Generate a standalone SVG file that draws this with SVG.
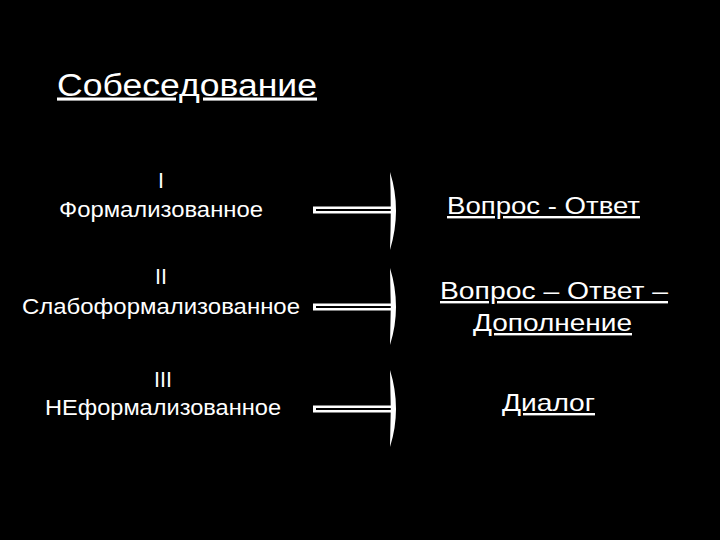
<svg xmlns="http://www.w3.org/2000/svg" width="720" height="540" viewBox="0 0 720 540">
<style>
text{font-family:"Liberation Sans",Arial,sans-serif;fill:#fff}
.l{font-size:21.5px;text-anchor:middle}
.r{font-size:24px;text-anchor:middle;text-decoration:underline}
.shaft{fill:#fff}
.inner{fill:#000}
.head{fill:#fff}
</style>
<rect width="720" height="540" fill="#000"/>
<text x="57" y="95.5" textLength="260" lengthAdjust="spacingAndGlyphs" style="font-size:31px;text-decoration:underline">Собеседование</text>
<g id="node-left-1"><text class="l" x="161" y="188">I</text><text class="l" x="161" y="216.5" textLength="204" lengthAdjust="spacingAndGlyphs">Формализованное</text></g>
<g id="node-left-2"><text class="l" x="161" y="284">II</text><text class="l" x="161" y="313.5" textLength="278" lengthAdjust="spacingAndGlyphs">Слабоформализованное</text></g>
<g id="node-left-3"><text class="l" x="163" y="387">III</text><text class="l" x="163" y="415" textLength="236" lengthAdjust="spacingAndGlyphs">НЕформализованное</text></g>
<g id="node-right-1"><text class="r" x="543.5" y="214" textLength="193" lengthAdjust="spacingAndGlyphs">Вопрос - Ответ</text></g>
<g id="node-right-2"><text class="r" x="554" y="299" textLength="228" lengthAdjust="spacingAndGlyphs">Вопрос – Ответ –</text><text class="r" x="552.5" y="331" textLength="159" lengthAdjust="spacingAndGlyphs">Дополнение</text></g>
<g id="node-right-3"><text class="r" x="548.5" y="411" textLength="93" lengthAdjust="spacingAndGlyphs">Диалог</text></g>
<g id="connectors">
<g transform="translate(0,210)"><rect class="shaft" x="313" y="-3.5" width="80" height="7"/><rect class="inner" x="316" y="-1" width="76" height="2"/><path class="head" d="M390,-38 Q402,0 390,40 Q391.5,0 390,-38Z"/></g>
<g transform="translate(0,307)"><rect class="shaft" x="313" y="-3.5" width="80" height="7"/><rect class="inner" x="316" y="-1" width="76" height="2"/><path class="head" d="M390,-39 Q402,0 390,38 Q391.5,0 390,-39Z"/></g>
<g transform="translate(0,409)"><rect class="shaft" x="313" y="-3.5" width="80" height="7"/><rect class="inner" x="316" y="-1" width="76" height="2"/><path class="head" d="M390,-39 Q402,0 390,38 Q391.5,0 390,-39Z"/></g>
</g>
</svg>
